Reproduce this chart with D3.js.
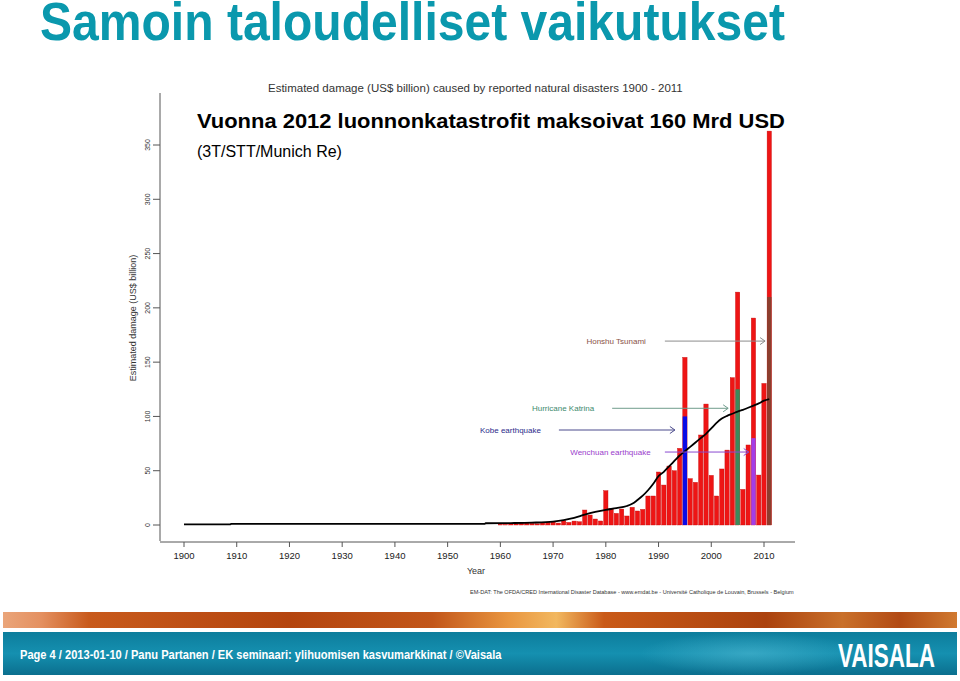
<!DOCTYPE html>
<html>
<head>
<meta charset="utf-8">
<script src="https://cdn.jsdelivr.net/npm/d3@7/dist/d3.min.js"></script>
<style>
  html, body { margin: 0; padding: 0; background: #fff; }
  svg { display: block; font-family: "Liberation Sans", Arial, sans-serif; }
</style>
</head>
<body>
<svg id="chart" width="960" height="681"></svg>
<script>
// ---------------- DATA ----------------
const years = [1960,1961,1962,1963,1964,1965,1966,1967,1968,1969,
               1970,1971,1972,1973,1974,1975,1976,1977,1978,1979,
               1980,1981,1982,1983,1984,1985,1986,1987,1988,1989,
               1990,1991,1992,1993,1994,1995,1996,1997,1998,1999,
               2000,2001,2002,2003,2004,2005,2006,2007,2008,2009,
               2010,2011];
const totalDamage = [0.6,0.4,1.5,1.3,1.8,2.0,1.6,1.2,2.2,2.6,
                     3.0,1.8,4.0,2.4,3.6,3.0,13.8,9.2,5.5,3.7,
                     31.6,15.3,10.7,14.7,8.3,16.3,12.9,14.4,26.7,26.7,
                     48.8,36.8,54.3,50.0,70.6,154.4,42.7,39.3,82.9,111.4,
                     45.7,26.7,51.6,69.0,135.7,214.5,32.8,73.7,190.6,46.0,
                     130.4,362.8];
const eventNames  = ["Kobe earthquake","Hurricane Katrina","Wenchuan earthquake","Honshu Tsunami"];
const eventYears  = [1995, 2005, 2008, 2011];
const eventDamage = [100, 125, 80, 210];

const trendYears  = [1900,1908.7,1909,1957,1957.2,1962,1966,1970,1972,1974,1976,1978,1980,1982,1984,1985,1986,1987,1988,1989,
                     1990,1991,1992,1993,1994,1995,1996,1997,1998,1999,2000,2001,2002,2003,2004,2005,2006,2007,2008,2009,2010,2011];
const trendValues = [0.6,0.6,1.0,1.0,1.6,1.8,2.2,3.2,4.5,6.5,9.5,12,14,15.5,17.5,19.5,23,27,32,38,
                     45,49,54,59,64,68,72,76,80,84,89,94,98,100.5,102.5,104.5,106,108,110,112,114.5,116];

const xTicks = [1900,1910,1920,1930,1940,1950,1960,1970,1980,1990,2000,2010];
const yTicks = [0,50,100,150,200,250,300,350];

// ---------------- LAYOUT ----------------
const svg = d3.select("#chart");
const x = d3.scaleLinear().domain([1900, 2010]).range([184, 764]);
const y = d3.scaleLinear().domain([0, 350]).range([525, 145]);
const barW = (x(1901) - x(1900)) * 0.82;

const eventColors = ["#0a0ae6", "#3b8a5c", "#a23ee6", "#8b3e2e"];
const eventText   = ["#2b2b8a", "#3d8a6e", "#9a3ccc", "#8a5246"];
const eventArrow  = ["#4a4a8c", "#6f9c8c", "#8a4ad0", "#8c8c8c"];

const defs = svg.append("defs");

// text squeezed horizontally to a given width via a transform
function fitText(str, x0, y0, width, attrs) {
  const t = svg.append("text").attr("x", 0).attr("y", 0).text(str);
  Object.entries(attrs).forEach(([k, v]) => t.attr(k, v));
  const w = t.node().getComputedTextLength();
  const k = w > 0 ? width / w : 1;
  t.attr("transform", `translate(${x0},${y0}) scale(${k},1)`);
  return t;
}

// ------------- Title -------------
fitText("Samoin taloudelliset vaikutukset", 40, 40, 745,
  { "font-size": 54, "font-weight": "bold", "fill": "#0a98ad" });

// ------------- Chart subtitle -------------
fitText("Estimated damage (US$ billion) caused by reported natural disasters 1900 - 2011", 268, 92, 415,
  { "font-size": 11, "fill": "#333" });

// ------------- Axes -------------
const gy = svg.append("g");
gy.append("line").attr("x1", 160).attr("x2", 160).attr("y1", 93).attr("y2", 541)
  .attr("stroke", "#555").attr("stroke-width", 1);
gy.selectAll(".yt").data(yTicks).join("line")
  .attr("x1", 153).attr("x2", 160)
  .attr("y1", d => y(d)).attr("y2", d => y(d))
  .attr("stroke", "#555").attr("stroke-width", 1);
gy.selectAll(".yl").data(yTicks).join("text")
  .attr("transform", d => `translate(150,${y(d)}) rotate(-90)`)
  .attr("text-anchor", "middle")
  .attr("font-size", 7).attr("fill", "#333")
  .text(d => d);
svg.append("text")
  .attr("transform", `translate(136,318) rotate(-90)`)
  .attr("text-anchor", "middle")
  .attr("font-size", 9).attr("fill", "#333")
  .text("Estimated damage (US$ billion)");

const gx = svg.append("g");
gx.append("line").attr("x1", 160).attr("x2", 795).attr("y1", 542).attr("y2", 542)
  .attr("stroke", "#555").attr("stroke-width", 1);
gx.selectAll(".xt").data(xTicks).join("line")
  .attr("x1", d => x(d)).attr("x2", d => x(d))
  .attr("y1", 542).attr("y2", 547)
  .attr("stroke", "#555").attr("stroke-width", 1);
gx.selectAll(".xl").data(xTicks).join("text")
  .attr("x", d => x(d)).attr("y", 559)
  .attr("text-anchor", "middle")
  .attr("font-size", 9.5).attr("fill", "#222")
  .text(d => d);
svg.append("text")
  .attr("x", 476).attr("y", 574)
  .attr("text-anchor", "middle")
  .attr("font-size", 9).attr("fill", "#333")
  .text("Year");

fitText("EM-DAT: The OFDA/CRED International Disaster Database - www.emdat.be - Université Catholique de Louvain, Brussels - Belgium",
  470, 594, 325, { "font-size": 5.5, "fill": "#333" });

// ------------- Bars -------------
const bars = years.map((yr, i) => ({ year: yr, total: totalDamage[i] }));
svg.append("g").selectAll("rect").data(bars).join("rect")
  .attr("x", d => x(d.year) - barW / 2)
  .attr("width", barW)
  .attr("y", d => y(d.total))
  .attr("height", d => y(0) - y(d.total))
  .attr("fill", "#ee1515")
  .attr("stroke", "#c80a0a").attr("stroke-width", 0.4);

const events = eventYears.map((yr, i) => ({ year: yr, value: eventDamage[i], i }));
svg.append("g").selectAll("rect").data(events).join("rect")
  .attr("x", d => x(d.year) - barW / 2)
  .attr("width", barW)
  .attr("y", d => y(d.value))
  .attr("height", d => y(0) - y(d.value))
  .attr("fill", d => eventColors[d.i]);

// ------------- Trend line -------------
const trend = trendYears.map((yr, i) => [yr, trendValues[i]]);
svg.append("path")
  .datum(trend)
  .attr("d", d3.line().x(d => x(d[0])).y(d => y(d[1])).curve(d3.curveMonotoneX))
  .attr("fill", "none").attr("stroke", "#000").attr("stroke-width", 1.8);

// ------------- Annotations -------------
// [textEndYear, arrowStartYear, arrowEndYear, valueLevel]
const annot = [
  [1971.1 - 3.4, 1971.1, 1993.1, 87.5],
  [1981.2 - 3.4, 1981.2, 2003.2, 107.5],
  [1991.2 - 2.7, 1991.2, 2007.1, 67.2],
  [1991.2 - 3.6, 1991.2, 2010.2, 169.4]
];
const ga = svg.append("g");
annot.forEach((a, i) => {
  const yy = y(a[3]);
  ga.append("text")
    .attr("x", x(a[0])).attr("y", yy + 3)
    .attr("text-anchor", "end")
    .attr("font-size", 8).attr("fill", eventText[i])
    .text(eventNames[i]);
  ga.append("line")
    .attr("x1", x(a[1])).attr("x2", x(a[2]))
    .attr("y1", yy).attr("y2", yy)
    .attr("stroke", eventArrow[i]).attr("stroke-width", 1);
  const xe = x(a[2]);
  ga.append("path")
    .attr("d", `M${xe - 5},${yy - 3.5} L${xe},${yy} L${xe - 5},${yy + 3.5}`)
    .attr("fill", "none").attr("stroke", eventArrow[i]).attr("stroke-width", 1);
});

// ------------- Overlay headline -------------
fitText("Vuonna 2012 luonnonkatastrofit maksoivat 160 Mrd USD", 197, 128, 588,
  { "font-size": 21, "font-weight": "bold", "fill": "#000" });
svg.append("text")
  .attr("x", 197).attr("y", 157)
  .attr("font-size", 16).attr("fill", "#000")
  .text("(3T/STT/Munich Re)");

// ------------- Footer -------------
const og = defs.append("linearGradient").attr("id", "orange").attr("x1", 0).attr("x2", 1);
[[0,"#eaa57a"],[0.04,"#e49060"],[0.09,"#c85a1c"],[0.3,"#b4450f"],[0.45,"#c2561a"],
 [0.53,"#e99640"],[0.58,"#f2b860"],[0.63,"#c95a18"],[0.8,"#ab420e"],[0.88,"#c9702a"],[0.94,"#b24a14"],[1,"#d07a30"]]
  .forEach(s => og.append("stop").attr("offset", s[0]).attr("stop-color", s[1]));
svg.append("rect").attr("x", 3).attr("y", 612).attr("width", 954).attr("height", 16)
  .attr("fill", "url(#orange)");

const tg = defs.append("linearGradient").attr("id", "teal").attr("x1", 0).attr("x2", 0).attr("y1", 0).attr("y2", 1);
tg.append("stop").attr("offset", 0).attr("stop-color", "#0d7d9c");
tg.append("stop").attr("offset", 0.5).attr("stop-color", "#1590b0");
tg.append("stop").attr("offset", 1).attr("stop-color", "#0b6f8e");
svg.append("rect").attr("x", 3).attr("y", 632).attr("width", 954).attr("height", 43)
  .attr("fill", "url(#teal)");
const rg = defs.append("radialGradient").attr("id", "glow").attr("cx", 0.5).attr("cy", 0.5).attr("r", 0.5);
rg.append("stop").attr("offset", 0).attr("stop-color", "#5fc4dc").attr("stop-opacity", 0.45);
rg.append("stop").attr("offset", 1).attr("stop-color", "#5fc4dc").attr("stop-opacity", 0);
svg.append("rect").attr("x", 640).attr("y", 632).attr("width", 220).attr("height", 43)
  .attr("fill", "url(#glow)");

fitText("Page 4 / 2013-01-10 / Panu Partanen / EK seminaari: ylihuomisen kasvumarkkinat / ©Vaisala", 20, 659, 482,
  { "font-size": 12, "font-weight": "bold", "fill": "#fff" });
fitText("VAISALA", 838, 667, 97,
  { "font-size": 34, "font-weight": "bold", "fill": "#fff" });
</script>
</body>
</html>
